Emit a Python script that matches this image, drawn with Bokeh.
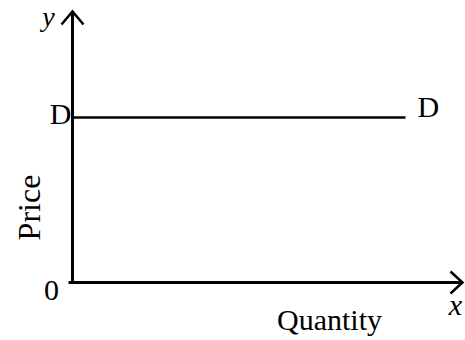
import math
from bokeh.plotting import figure
from bokeh.models import Range1d, Label
from bokeh.embed import file_html
from bokeh.resources import INLINE

# ---- data ----
quantity = [0, 10]          # demand curve extent (quantity)
price = [5, 5]              # perfectly elastic demand: constant price
curve_labels = ["D", "D"]
x_axis_label = "Quantity"
y_axis_label = "Price"
origin_label = "0"

# ---- pixel -> data helpers (layout only) ----
W, H = 465, 340
OX, OY = 72, 282             # origin in figure pixels
SX, SY = 33.3, 33.0          # pixels per unit

def X(px):
    return (px - OX) / SX

def Y(py):
    return (OY - py) / SY

p = figure(width=W, height=H, output_backend="svg", toolbar_location=None,
           x_range=Range1d(X(0), X(W)), y_range=Range1d(Y(H), Y(0)),
           min_border=0, min_border_left=0, min_border_right=0,
           min_border_top=0, min_border_bottom=0)
p.axis.visible = False
p.grid.visible = False
p.outline_line_color = None
p.background_fill_color = "white"
p.border_fill_color = "white"

# axes lines
y_top = Y(11)
x_right = X(462)
p.line([0, 0], [0, y_top], line_width=3, line_color="black")
p.line([X(68), x_right], [0, 0], line_width=3, line_color="black")
# open arrow heads
p.line([X(61), 0, X(83)], [Y(24), y_top, Y(24)], line_width=2.5, line_color="black",
       line_join="miter")
p.line([X(450), x_right, X(450)], [Y(271), 0, Y(293)], line_width=2.5, line_color="black",
       line_join="miter")

# demand line
p.line(quantity, price, line_width=2.5, line_color="black")

FONT = "Liberation Serif"
def lab(text, x, y, align="center", size="30px", style="normal", angle=0):
    p.add_layout(Label(x=x, y=y, text=text, text_font=FONT, text_font_size=size,
                       text_align=align, text_baseline="middle",
                       text_font_style=style, angle=angle, text_color="black"))

lab(curve_labels[0], X(71), Y(113), align="right")
lab(curve_labels[1], X(417), Y(106), align="left")
lab(origin_label, X(51), Y(290))
lab(x_axis_label, X(329), Y(319))
lab(y_axis_label, X(28), Y(207), angle=math.pi / 2, size="32px")
lab("y", X(48), Y(16), style="italic", size="28px")
lab("x", X(455), Y(304), style="italic")

open("out.html", "w").write(file_html(p, INLINE))
